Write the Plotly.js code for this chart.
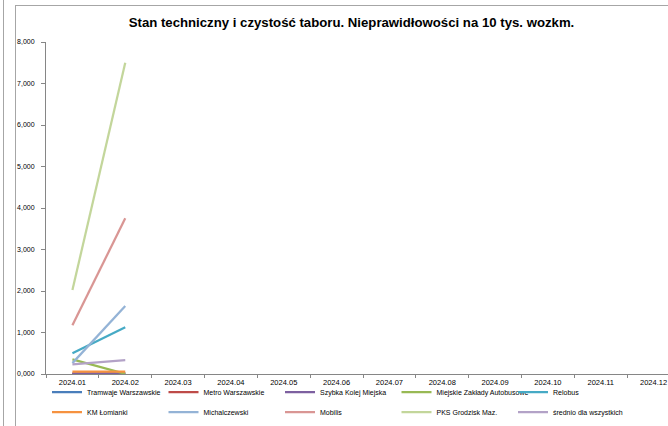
<!DOCTYPE html>
<html><head><meta charset="utf-8">
<script src="https://cdn.plot.ly/plotly-3.0.1.min.js"></script>
<style>
html,body{margin:0;padding:0;overflow:hidden;background:#fff;width:668px;height:426px;}
#chart{position:absolute;left:0;top:0;width:700px;height:426px;}
.ln{position:absolute;background:#a6a6a6;pointer-events:none;}
</style></head><body>
<div id="chart"></div>
<div class="ln" style="left:3px;top:0;width:1px;height:426px;"></div>
<div class="ln" style="left:15px;top:5px;width:1px;height:421px;"></div>
<div class="ln" style="left:15px;top:5px;width:653px;height:1px;"></div>
<script>
const categories = ['2024.01','2024.02','2024.03','2024.04','2024.05','2024.06','2024.07','2024.08','2024.09','2024.10','2024.11','2024.12'];
const seriesNames = ['Tramwaje Warszawskie','Metro Warszawskie','Szybka Kolej Miejska','Miejskie Zakłady Autobusowe','Relobus','KM Łomianki','Michalczewski','Mobilis','PKS Grodzisk Maz.','średnio dla wszystkich'];
const tramwaje      = [12, 14, null, null, null, null, null, null, null, null, null, null];
const metro         = [8, 10, null, null, null, null, null, null, null, null, null, null];
const skm           = [5, 6, null, null, null, null, null, null, null, null, null, null];
const mza           = [352, 5, null, null, null, null, null, null, null, null, null, null];
const relobus       = [498, 1125, null, null, null, null, null, null, null, null, null, null];
const lomianki      = [55, 60, null, null, null, null, null, null, null, null, null, null];
const michalczewski = [262, 1638, null, null, null, null, null, null, null, null, null, null];
const mobilis       = [1173, 3752, null, null, null, null, null, null, null, null, null, null];
const pks           = [2024, 7500, null, null, null, null, null, null, null, null, null, null];
const srednio       = [233, 337, null, null, null, null, null, null, null, null, null, null];
const yTickVals = [0,1000,2000,3000,4000,5000,6000,7000,8000];
const yTickText = ['0,000','1,000','2,000','3,000','4,000','5,000','6,000','7,000','8,000'];

const values = [tramwaje, metro, skm, mza, relobus, lomianki, michalczewski, mobilis, pks, srednio];
const colors = ['#4a7ebb','#be4b48','#7d60a0','#98b954','#46aac5','#f69240','#94b3d6','#d99694','#c3d69b','#b3a2c7'];

const traces = values.map((v,i)=>({
  type:'scatter', mode:'lines', x:categories, y:v, name:seriesNames[i],
  line:{color:colors[i], width:2.25}, connectgaps:false,
  legend: i<5 ? 'legend' : 'legend2', hoverinfo:'skip'
}));

const W = 700, H = 426;
const legendBase = {orientation:'h', xref:'container', yref:'container', xanchor:'left', yanchor:'middle',
  font:{family:'Liberation Sans, Arial, sans-serif', size:7, color:'#000'},
  entrywidth:71.5, entrywidthmode:'pixels', itemwidth:30, bgcolor:'rgba(0,0,0,0)', borderwidth:0, tracegroupgap:0};

const layout = {
  width:W, height:H,
  margin:{l:45.5, r:20, t:42, b:52, pad:0},
  paper_bgcolor:'rgba(0,0,0,0)', plot_bgcolor:'rgba(0,0,0,0)',
  title:{text:'Stan techniczny i czystość taboru. Nieprawidłowości na 10 tys. wozkm.',
    font:{family:'Liberation Sans, Arial, sans-serif', size:13.2, color:'#000', weight:'bold'},
    xref:'container', yref:'container', x:351.5/W, xanchor:'center', y:1-22/H, yanchor:'middle'},
  xaxis:{type:'category', range:[-0.5,11.5], showgrid:false, zeroline:false,
    showline:true, linecolor:'#868686', linewidth:1,
    ticks:'outside', tickson:'boundaries', ticklen:3, tickcolor:'#868686', ticklabelstandoff:1,
    tickfont:{family:'Liberation Sans, Arial, sans-serif', size:7.5, color:'#000'}, fixedrange:true},
  yaxis:{range:[0,8000], tickvals:yTickVals, ticktext:yTickText, showgrid:false, zeroline:false,
    showline:true, linecolor:'#868686', linewidth:1,
    ticks:'outside', ticklen:4, tickcolor:'#868686', ticklabelstandoff:5,
    tickfont:{family:'Liberation Sans, Arial, sans-serif', size:7, color:'#000'}, fixedrange:true},
  legend:Object.assign({}, legendBase, {x:47/W, y:1-392/H}),
  legend2:Object.assign({}, legendBase, {x:47/W, y:1-412/H}),
  showlegend:true
};
Plotly.newPlot('chart', traces, layout, {displayModeBar:false, staticPlot:true});
</script>
</body></html>
